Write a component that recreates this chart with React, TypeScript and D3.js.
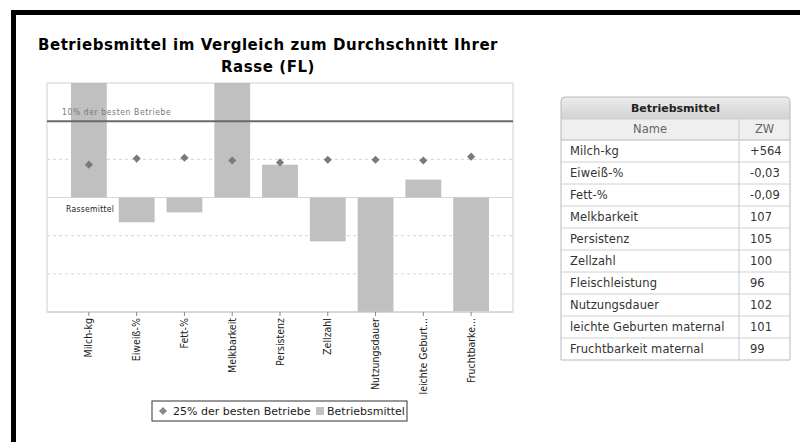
import React from "react";
import * as d3 from "d3";

const categories = [
  "Milch-kg",
  "Eiweiß-%",
  "Fett-%",
  "Melkbarkeit",
  "Persistenz",
  "Zellzahl",
  "Nutzungsdauer",
  "leichte Geburt...",
  "Fruchtbarke...",
];
// Betriebsmittel relative to Rassemittel (bars are clipped at the plot edge)
const betriebsmittel = [35, -6.5, -3.9, 35, 8.6, -11.5, -35, 4.7, -29.8];
// 25% der besten Betriebe (diamonds)
const besten25 = [8.6, 10.2, 10.4, 9.7, 9.2, 9.9, 9.9, 9.7, 10.7];
const besten10 = 20;
const gridValues = [10, -10, -20];

const tableNames = [
  "Milch-kg",
  "Eiweiß-%",
  "Fett-%",
  "Melkbarkeit",
  "Persistenz",
  "Zellzahl",
  "Fleischleistung",
  "Nutzungsdauer",
  "leichte Geburten maternal",
  "Fruchtbarkeit maternal",
];
const tableValues = ["+564", "-0,03", "-0,09", "107", "105", "100", "96", "102", "101", "99"];

const plotLeft = 47;
const plotRight = 513;
const plotTop = 83;
const plotBottom = 312;

const font = "'DejaVu Sans', sans-serif";
const condensed = "'DejaVu Sans Condensed', 'DejaVu Sans', sans-serif";

const App = () => {
  const x = d3.scaleBand().domain(categories).range([65, 495]).padding(0);
  const y = d3.scaleLinear().domain([-30, 30]).range([plotBottom, plotTop]);
  const barW = x.bandwidth() * 0.75;
  const cx = (c: string) => (x(c) ?? 0) + x.bandwidth() / 2;
  const diamond = d3.symbol().type(d3.symbolDiamond2).size(42)();

  // table geometry
  const tx = 561;
  const tRight = 790;
  const tCol = 739;
  const tTop = 97;
  const headH = 22;
  const nameH = 21;
  const rowH = 22;
  const rowsTop = tTop + headH + nameH;
  const tBottom = rowsTop + rowH * tableNames.length;

  return (
    <svg
      width={800}
      height={442}
      style={{ position: "absolute", left: 0, top: 0, background: "#fff" }}
    >
      <defs>
        <clipPath id="plot-clip">
          <rect x={plotLeft} y={plotTop} width={plotRight - plotLeft} height={plotBottom - plotTop} />
        </clipPath>
        <linearGradient id="head-grad" x1="0" y1="0" x2="0" y2="1">
          <stop offset="0" stopColor="#ececec" />
          <stop offset="1" stopColor="#d2d2d2" />
        </linearGradient>
      </defs>

      {/* outer frame */}
      <rect x={11} y={10} width={789} height={5} fill="#000" />
      <rect x={11} y={10} width={5} height={432} fill="#000" />

      {/* title */}
      <text x={268} y={50} textAnchor="middle" fontFamily={font} fontWeight="bold" fontSize={15} letterSpacing={0.55}>
        Betriebsmittel im Vergleich zum Durchschnitt Ihrer
      </text>
      <text x={268} y={72} textAnchor="middle" fontFamily={font} fontWeight="bold" fontSize={15} letterSpacing={0.55}>
        Rasse (FL)
      </text>

      {/* plot frame and grid */}
      <rect x={plotLeft} y={plotTop} width={plotRight - plotLeft} height={plotBottom - plotTop} fill="#fff" stroke="#d0d0d0" />
      {gridValues.map((v) => (
        <line key={v} x1={plotLeft} x2={plotRight} y1={y(v)} y2={y(v)} stroke="#d4d4d4" strokeDasharray="3,3" />
      ))}
      <line x1={plotLeft} x2={plotRight} y1={y(0)} y2={y(0)} stroke="#d8d8d8" />

      {/* bars */}
      <g clipPath="url(#plot-clip)">
        {categories.map((c, i) => {
          const v = betriebsmittel[i];
          return (
            <rect
              key={c}
              x={cx(c) - barW / 2}
              width={barW}
              y={Math.min(y(v), y(0))}
              height={Math.abs(y(v) - y(0))}
              fill="#c0c0c0"
            />
          );
        })}
      </g>

      {/* 10% line */}
      <line x1={plotLeft} x2={plotRight} y1={y(besten10)} y2={y(besten10)} stroke="#6a6a6a" strokeWidth={2} />
      <text x={62} y={y(besten10) - 6} fontFamily={condensed} fontSize={8.5} fill="#777" letterSpacing={0.6}>
        10% der besten Betriebe
      </text>
      <text x={66} y={y(0) + 14} fontFamily={condensed} fontSize={8.5} fill="#222" letterSpacing={0.3}>
        Rassemittel
      </text>

      {/* diamonds */}
      {categories.map((c, i) => (
        <path key={c} d={diamond ?? ""} transform={`translate(${cx(c)},${y(besten25[i])})`} fill="#7a7a7a" />
      ))}

      {/* x axis */}
      <line x1={plotLeft} x2={plotRight} y1={plotBottom} y2={plotBottom} stroke="#c8c8c8" />
      {categories.map((c) => (
        <g key={c} transform={`translate(${cx(c)},${plotBottom})`}>
          <line y1={0} y2={4} stroke="#888" />
          <text
            transform="translate(3.5,6) rotate(-90)"
            textAnchor="end"
            fontFamily={condensed}
            fontSize={10.5}
            fill="#222"
          >
            {c}
          </text>
        </g>
      ))}

      {/* legend */}
      <rect x={152} y={401} width={255} height={20} fill="#fff" stroke="#333" />
      <path d={diamond ?? ""} transform="translate(163,411)" fill="#888" />
      <text x={173} y={415} fontFamily={font} fontSize={11} fill="#222">
        25% der besten Betriebe
      </text>
      <rect x={316} y={407} width={8} height={8} fill="#c0c0c0" />
      <text x={327} y={415} fontFamily={font} fontSize={11} fill="#222">
        Betriebsmittel
      </text>

      {/* table */}
      <path
        d={`M${tx},${tTop + headH} V${tTop + 4} Q${tx},${tTop} ${tx + 4},${tTop} H${tRight - 4} Q${tRight},${tTop} ${tRight},${tTop + 4} V${tTop + headH} Z`}
        fill="url(#head-grad)"
      />
      <rect x={tx} y={tTop + headH} width={tRight - tx} height={nameH} fill="#efefef" />
      <path
        d={`M${tx},${tBottom} V${tTop + 4} Q${tx},${tTop} ${tx + 4},${tTop} H${tRight - 4} Q${tRight},${tTop} ${tRight},${tTop + 4} V${tBottom} Z`}
        fill="none"
        stroke="#b8b8b8"
      />
      <line x1={tx} x2={tRight} y1={tTop + headH} y2={tTop + headH} stroke="#cfcfcf" />
      <line x1={tx} x2={tRight} y1={rowsTop} y2={rowsTop} stroke="#b8b8b8" />
      <line x1={tCol} x2={tCol} y1={tTop + headH} y2={tBottom} stroke="#c8c8c8" />
      <text x={(tx + tRight) / 2} y={tTop + 15} textAnchor="middle" fontFamily={font} fontWeight="bold" fontSize={11} fill="#222">
        Betriebsmittel
      </text>
      <text x={(tx + tCol) / 2} y={tTop + headH + 14} textAnchor="middle" fontFamily={font} fontSize={11.5} fill="#666">
        Name
      </text>
      <text x={(tCol + tRight) / 2} y={tTop + headH + 14} textAnchor="middle" fontFamily={font} fontSize={11.5} fill="#666">
        ZW
      </text>
      {tableNames.map((n, i) => {
        const ry = rowsTop + i * rowH;
        return (
          <g key={n}>
            {i > 0 && <line x1={tx} x2={tRight} y1={ry} y2={ry} stroke="#d0d0d0" />}
            <text x={570} y={ry + 15} fontFamily={font} fontSize={11.5} fill="#333" letterSpacing={0.1}>
              {n}
            </text>
            <text x={750} y={ry + 15} fontFamily={font} fontSize={11.5} fill="#333">
              {tableValues[i]}
            </text>
          </g>
        );
      })}
    </svg>
  );
};

export default App;
